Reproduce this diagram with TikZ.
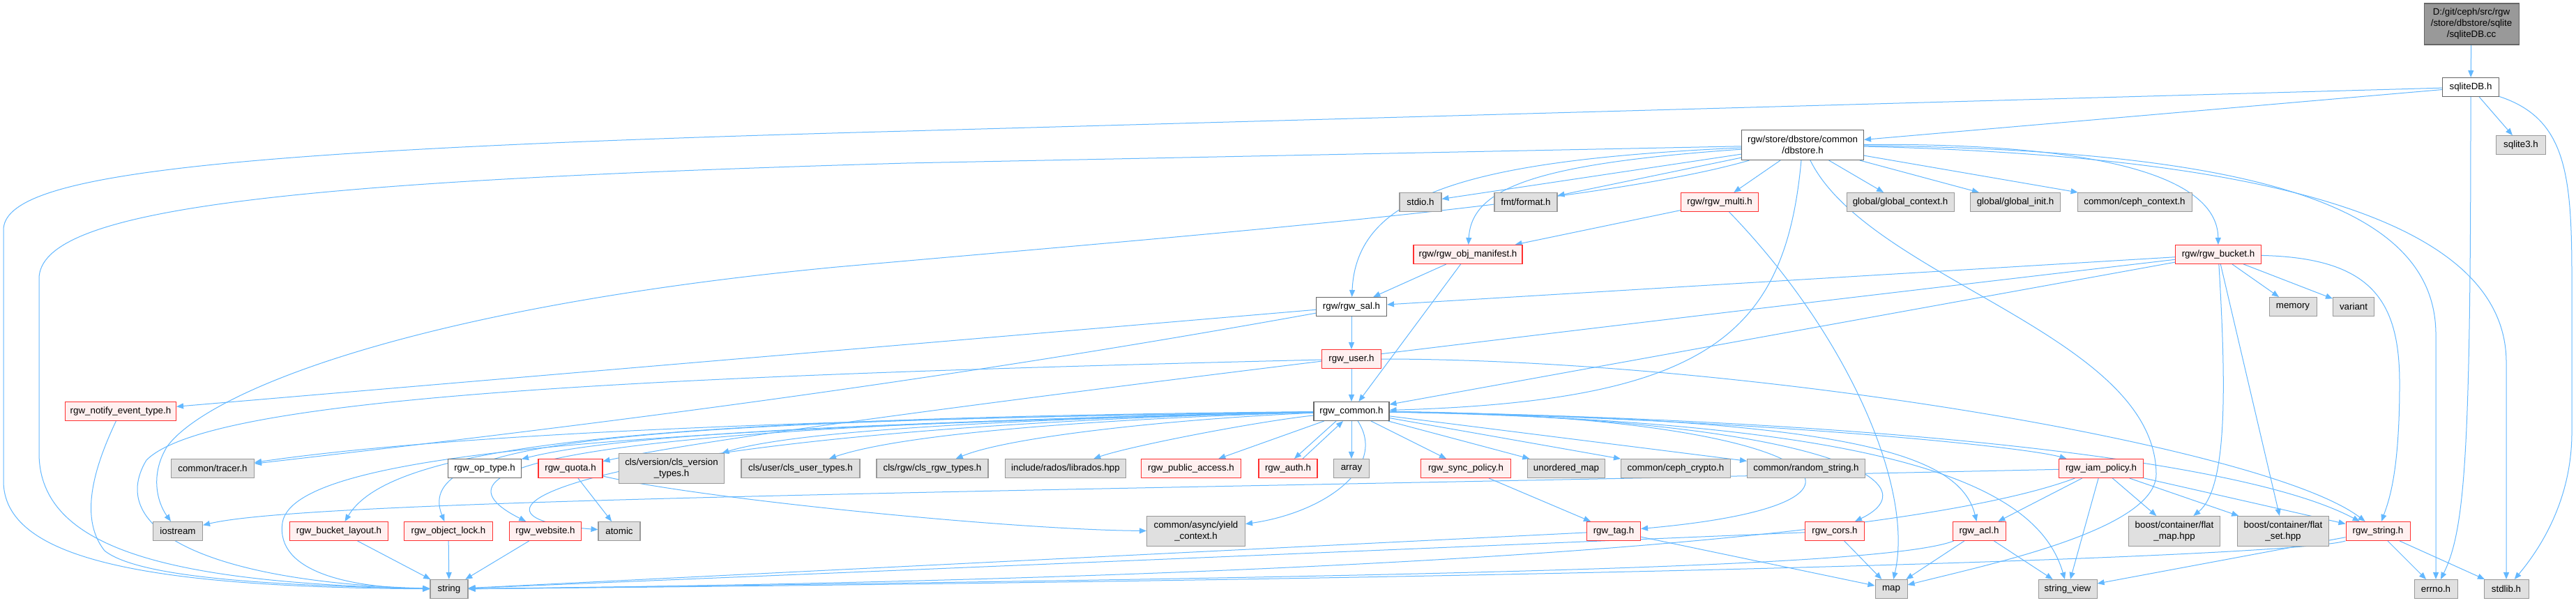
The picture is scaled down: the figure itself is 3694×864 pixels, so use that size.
\documentclass[tikz,border=0pt]{standalone}
\usepackage{fontspec}
\setmainfont{Liberation Sans}
\usetikzlibrary{arrows.meta}
\pgfdeclarelayer{bglayer}
\pgfdeclarelayer{edgelayer}
\pgfsetlayers{bglayer,edgelayer,main}
\definecolor{edgeblue}{HTML}{63B8FF}
\definecolor{boxred}{HTML}{FF3030}
\definecolor{fillred}{HTML}{FFF0F0}
\definecolor{boxgray}{HTML}{999999}
\definecolor{fillgray}{HTML}{E0E0E0}
\definecolor{boxdark}{HTML}{666666}
\definecolor{rootgray}{HTML}{999999}
\tikzset{
  box/.style={rectangle, draw, line width=0.8pt, font=\fontsize{10}{12}\selectfont, align=center, inner sep=1pt, minimum height=20.25pt},
  gbox/.style={box, draw=boxgray, fill=fillgray},
  rbox/.style={box, draw=boxred, fill=fillred},
  wbox/.style={box, draw=boxdark, fill=white},
  rootbox/.style={box, draw=boxdark, fill=rootgray},
  bw/.style={minimum width=#1*0.75pt},
  twoline/.style={minimum height=32.25pt},
  edge/.style={draw=edgeblue, line width=0.75pt, -{Triangle[length=7.5pt,width=6pt]}},
}
\begin{document}
\begin{tikzpicture}[x=0.75pt,y=-0.75pt]
\begin{pgfonlayer}{bglayer}
\fill[white] (0,0) rectangle (3694,864);
\end{pgfonlayer}
\useasboundingbox (0,0) rectangle (3694,864);
% rank 0-2
\node[rootbox, bw=136, minimum height=44.25pt] (root) at (3544,34.5) {D:/git/ceph/src/rgw\\/store/dbstore/sqlite\\/sqliteDB.cc};
\node[wbox, bw=81] (sqh) at (3543,125) {sqliteDB.h};
\node[wbox, bw=175, twoline] (dbs) at (2585,208) {rgw/store/dbstore/common\\/dbstore.h};
\node[gbox, bw=71] (sq3) at (3615,208) {sqlite3.h};
% rank 3
\node[gbox, bw=60] (stdio) at (2037,290) {stdio.h};
\node[gbox, bw=90] (fmt) at (2188,290) {fmt/format.h};
\node[rbox, bw=111] (multi) at (2466,290) {rgw/rgw\_multi.h};
\node[gbox, bw=154] (gctx) at (2725,290) {global/global\_context.h};
\node[gbox, bw=129] (ginit) at (2890,290) {global/global\_init.h};
\node[gbox, bw=164] (cctx) at (3061,290) {common/ceph\_context.h};
% rank 4
\node[rbox, bw=156] (manifest) at (2105,365) {rgw/rgw\_obj\_manifest.h};
\node[rbox, bw=123] (bucket) at (3181,365) {rgw/rgw\_bucket.h};
% rank 5
\node[wbox, bw=101] (sal) at (1938,440) {rgw/rgw\_sal.h};
\node[gbox, bw=68] (memory) at (3288,440) {memory};
\node[gbox, bw=59] (variant) at (3375,440) {variant};
% rank 6
\node[rbox, bw=85] (user) at (1938,515) {rgw\_user.h};
% rank 7
\node[wbox, bw=108] (common) at (1938,590) {rgw\_common.h};
\node[rbox, bw=159] (notify) at (173,590) {rgw\_notify\_event\_type.h};
% rank 8
\node[gbox, bw=119] (tracer) at (305,672) {common/tracer.h};
\node[wbox, bw=105] (optype) at (695,672) {rgw\_op\_type.h};
\node[rbox, bw=92] (quota) at (818,672) {rgw\_quota.h};
\node[gbox, bw=151, twoline] (clsver) at (963,672) {cls/version/cls\_version\\\_types.h};
\node[gbox, bw=170] (clsuser) at (1148,672) {cls/user/cls\_user\_types.h};
\node[gbox, bw=160] (clsrgw) at (1337,672) {cls/rgw/cls\_rgw\_types.h};
\node[gbox, bw=173] (librados) at (1528,672) {include/rados/librados.hpp};
\node[rbox, bw=143] (pubacc) at (1708,672) {rgw\_public\_access.h};
\node[rbox, bw=84] (auth) at (1847,672) {rgw\_auth.h};
\node[gbox, bw=51] (array) at (1938,672) {array};
\node[rbox, bw=129] (sync) at (2102,672) {rgw\_sync\_policy.h};
\node[gbox, bw=111] (umap) at (2246,672) {unordered\_map};
\node[gbox, bw=157] (crypto) at (2403,672) {common/ceph\_crypto.h};
\node[gbox, bw=169] (rstr) at (2590,672) {common/random\_string.h};
\node[rbox, bw=121] (iam) at (3013,672) {rgw\_iam\_policy.h};
% rank 9
\node[gbox, bw=71] (iostream) at (255,762) {iostream};
\node[rbox, bw=141] (blayout) at (486,762) {rgw\_bucket\_layout.h};
\node[rbox, bw=127] (olock) at (643,762) {rgw\_object\_lock.h};
\node[rbox, bw=103] (website) at (782,762) {rgw\_website.h};
\node[gbox, bw=60] (atomic) at (888,762) {atomic};
\node[gbox, bw=141, twoline] (yield) at (1715,762) {common/async/yield\\\_context.h};
\node[rbox, bw=77] (tag) at (2314,762) {rgw\_tag.h};
\node[rbox, bw=85] (cors) at (2631,762) {rgw\_cors.h};
\node[rbox, bw=76] (acl) at (2838,762) {rgw\_acl.h};
\node[gbox, bw=131, twoline] (fmap) at (3118,762) {boost/container/flat\\\_map.hpp};
\node[gbox, bw=131, twoline] (fset) at (3274,762) {boost/container/flat\\\_set.hpp};
\node[rbox, bw=92] (rstring) at (3410,762) {rgw\_string.h};
% rank 10
\node[gbox, bw=54] (string) at (644,845) {string};
\node[gbox, bw=46] (map) at (2712,845) {map};
\node[gbox, bw=84] (sview) at (2965,845) {string\_view};
\node[gbox, bw=62] (errno) at (3493,845) {errno.h};
\node[gbox, bw=64] (stdlib) at (3594,845) {stdlib.h};

\begin{pgfonlayer}{edgelayer}
% ---- sqliteDB.cc / sqliteDB.h
\draw[edge] (root) -- (sqh);
\draw[edge] (sqh) -- (dbs);
\draw[edge] (sqh) -- (sq3);
\draw[edge] (sqh) .. controls (3543,650) and (3535,760) .. (errno);
\draw[edge] (sqh) .. controls (3680,170) and (3688,250) .. (3688,400) -- (3688,620) .. controls (3688,720) and (3640,790) .. (stdlib);
\draw[edge] (sqh) -- (1300,188) .. controls (300,215) and (5,250) .. (5,330) -- (5,690) .. controls (5,800) and (200,842) .. (string);
% ---- dbstore.h
\draw[edge] (dbs) -- (1300,234) .. controls (400,260) and (56,300) .. (56,400) -- (56,650) .. controls (56,790) and (250,836) .. (string);
\draw[edge] (dbs) .. controls (2300,290) and (1800,330) .. (1200,383) .. controls (600,440) and (300,560) .. (240,640) .. controls (215,680) and (225,720) .. (iostream);
\draw[edge] (dbs) -- (stdio);
\draw[edge] (dbs) -- (fmt);
\draw[edge] (dbs) -- (multi);
\draw[edge] (dbs) -- (gctx);
\draw[edge] (dbs) -- (ginit);
\draw[edge] (dbs) -- (cctx);
\draw[edge] (dbs) .. controls (2100,230) and (1945,280) .. (sal);
\draw[edge] (dbs) .. controls (2200,235) and (2110,270) .. (manifest);
\draw[edge] (dbs) .. controls (2560,480) and (2450,575) .. (common);
\draw[edge] (dbs) .. controls (2680,400) and (3090,480) .. (3092,680) .. controls (3092,760) and (2850,810) .. (map);
\draw[edge] (dbs) .. controls (3000,205) and (3180,250) .. (bucket);
\draw[edge] (dbs) .. controls (3250,215) and (3493,300) .. (3493,480) -- (errno);
\draw[edge] (dbs) .. controls (3300,225) and (3594,330) .. (3594,520) -- (stdlib);
% ---- rgw_multi, manifest
\draw[edge] (multi) -- (manifest);
\draw[edge] (multi) .. controls (2650,480) and (2745,700) .. (map);
\draw[edge] (manifest) -- (sal);
\draw[edge] (manifest) -- (common);
% ---- rgw_bucket
\draw[edge] (bucket) -- (sal);
\draw[edge] (bucket) -- (common);
\draw[edge] (bucket) .. controls (2200,480) and (1100,610) .. (quota);
\draw[edge] (bucket) -- (memory);
\draw[edge] (bucket) -- (variant);
\draw[edge] (bucket) .. controls (3192,550) and (3195,700) .. (fmap);
\draw[edge] (bucket) -- (fset);
\draw[edge] (bucket) .. controls (3400,370) and (3441,430) .. (3441,550) .. controls (3441,680) and (3425,720) .. (rstring);
% ---- rgw_sal, rgw_user
\draw[edge] (sal) -- (user);
\draw[edge] (sal) -- (notify);
\draw[edge] (sal) .. controls (1300,555) and (800,615) .. (tracer);
\draw[edge] (user) -- (common);
\draw[edge] (user) .. controls (900,540) and (300,570) .. (210,660) .. controls (150,760) and (300,835) .. (string);
\draw[edge] (user) .. controls (2500,515) and (3250,640) .. (rstring);
\draw[edge] (notify) .. controls (140,660) and (110,740) .. (150,790) .. controls (200,830) and (400,840) .. (string);
% ---- rgw_common
\draw[edge] (common) .. controls (1300,600) and (700,615) .. (tracer);
\draw[edge] (common) .. controls (1300,605) and (900,620) .. (optype);
\draw[edge] (common) .. controls (1500,600) and (1150,615) .. (clsver);
\draw[edge] (common) .. controls (1600,600) and (1300,620) .. (clsuser);
\draw[edge] (common) .. controls (1700,600) and (1450,625) .. (clsrgw);
\draw[edge] (common) .. controls (1800,605) and (1620,640) .. (librados);
\draw[edge] (common) -- (pubacc);
\draw[edge] ([xshift=-16.5pt]common.south) -- ([xshift=6.75pt]auth.north);
\draw[edge] ([xshift=15.75pt]auth.north) -- ([xshift=-9pt]common.south);
\draw[edge] (common) -- (array);
\draw[edge] (common) -- (sync);
\draw[edge] (common) -- (umap);
\draw[edge] (common) -- (crypto);
\draw[edge] (common) -- (rstr);
\draw[edge] (common) .. controls (2500,600) and (2900,640) .. (iam);
\draw[edge] (common) .. controls (2600,600) and (3200,650) .. (rstring);
\draw[edge] (common) .. controls (2700,605) and (2920,690) .. (sview);
\draw[edge] (common) .. controls (2650,600) and (2810,650) .. (acl);
\draw[edge] (common) .. controls (2600,600) and (2780,690) .. (cors);
\draw[edge] (common) .. controls (2600,595) and (2780,720) .. (tag);
\draw[edge] (common) .. controls (1990,670) and (1900,735) .. (yield);
\draw[edge] (common) .. controls (900,600) and (560,640) .. (blayout);
\draw[edge] (common) .. controls (900,605) and (590,630) .. (olock);
\draw[edge] (common) .. controls (900,610) and (580,660) .. (website);
\draw[edge] (common) .. controls (850,615) and (600,740) .. (atomic);
\draw[edge] (common) .. controls (900,615) and (420,650) .. (405,750) .. controls (395,820) and (500,843) .. (string);
% ---- rgw_iam_policy
\draw[edge] (iam) .. controls (1500,705) and (450,715) .. (iostream);
\draw[edge] (iam) .. controls (2750,770) and (2000,830) .. (string);
\draw[edge] (iam) -- (acl);
\draw[edge] (iam) -- (sview);
\draw[edge] (iam) -- (fmap);
\draw[edge] (iam) -- (fset);
\draw[edge] (iam) -- (rstring);
% ---- rank 9 sources
\draw[edge] (acl) -- (map);
\draw[edge] (acl) -- (sview);
\draw[edge] (acl) .. controls (2700,815) and (2000,828) .. (string);
\draw[edge] (cors) -- (map);
\draw[edge] (cors) -- (string);
\draw[edge] (tag) -- (map);
\draw[edge] (tag) -- (string);
\draw[edge] (sync) -- (tag);
\draw[edge] (quota) -- (atomic);
\draw[edge] (quota) .. controls (1000,715) and (1450,760) .. (yield);
\draw[edge] (blayout) -- (string);
\draw[edge] (olock) -- (string);
\draw[edge] (website) -- (string);
\draw[edge] (rstring) -- (sview);
\draw[edge] (rstring) -- (errno);
\draw[edge] (rstring) -- (stdlib);
\draw[edge] (rstring) .. controls (3300,795) and (2500,828) .. (string);
\end{pgfonlayer}
\end{tikzpicture}
\end{document}
